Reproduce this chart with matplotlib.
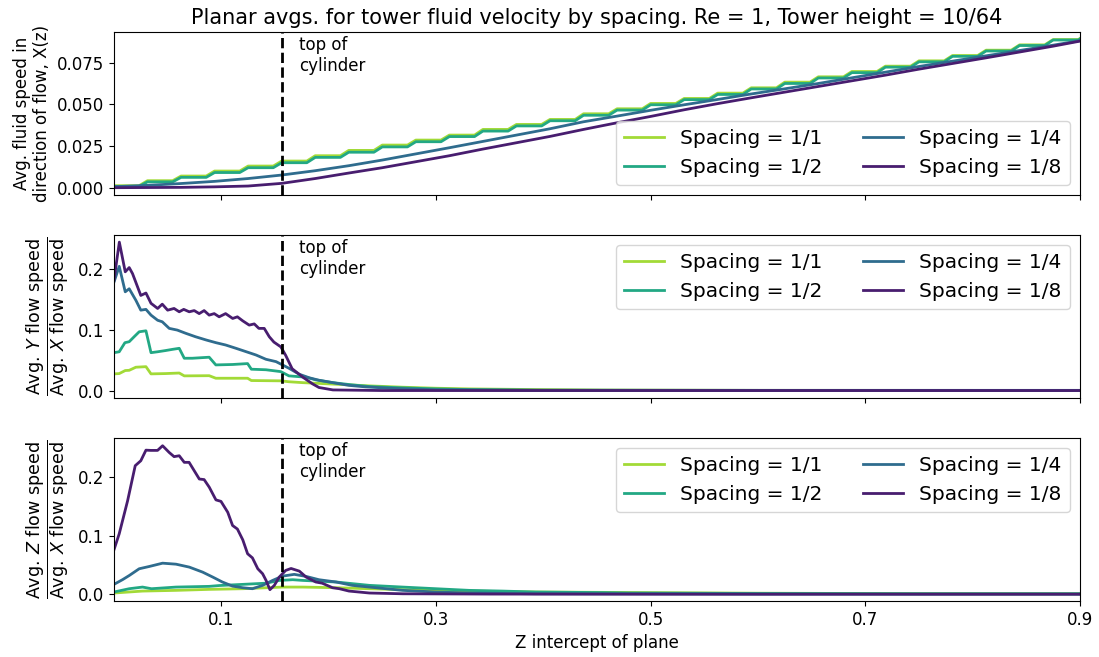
import numpy as np
import matplotlib
matplotlib.use('Agg')
import matplotlib.pyplot as plt
import matplotlib.transforms as mtransforms

labels = ['Spacing = 1/1', 'Spacing = 1/2', 'Spacing = 1/4', 'Spacing = 1/8']
colors = [plt.cm.viridis(v) for v in (0.86, 0.6, 0.35, 0.08)]
tower_top = 10 / 64

# top panel: 1/1 and 1/2 are flat per 1/32 slab (sampled every 1/128)
x_fine = np.arange(120) / 128
seg_11 = [0.0012, 0.0042, 0.0070, 0.0100, 0.0130, 0.0160, 0.0192, 0.0224, 0.0256, 0.0286,
          0.0316, 0.0350, 0.0380, 0.0410, 0.0444, 0.0474, 0.0506, 0.0536, 0.0568, 0.0600,
          0.0634, 0.0666, 0.0698, 0.0730, 0.0762, 0.0794, 0.0826, 0.0858, 0.0890, 0.0922]
seg_12 = [0.0008, 0.0035, 0.0062, 0.0091, 0.0120, 0.0150, 0.0182, 0.0213, 0.0245, 0.0276,
          0.0307, 0.0340, 0.0371, 0.0402, 0.0435, 0.0466, 0.0498, 0.0529, 0.0560, 0.0593,
          0.0626, 0.0659, 0.0691, 0.0724, 0.0756, 0.0789, 0.0821, 0.0854, 0.0887, 0.0919]
# 1/4 and 1/8 every 1/32
x_coarse = np.arange(30) / 32
top_14 = [0.0006, 0.0014, 0.0025, 0.0038, 0.0055, 0.0076, 0.0102, 0.0132, 0.0166, 0.0203,
          0.0240, 0.0278, 0.0316, 0.0354, 0.0396, 0.0430, 0.0465, 0.0498, 0.0530, 0.0563,
          0.0594, 0.0626, 0.0660, 0.0694, 0.0728, 0.0760, 0.0792, 0.0824, 0.0856, 0.0890]
top_18 = [0.0000, 0.0001, 0.0002, 0.0005, 0.0010, 0.0026, 0.0055, 0.0088, 0.0120, 0.0156,
          0.0192, 0.0232, 0.0270, 0.0308, 0.0350, 0.0390, 0.0428, 0.0468, 0.0505, 0.0540,
          0.0574, 0.0608, 0.0642, 0.0676, 0.0712, 0.0746, 0.0780, 0.0815, 0.0850, 0.0888]

# middle panel: Y/X ratio
my_x_11 = [0, 0.0049, 0.0105, 0.0142, 0.0204, 0.0298, 0.0345, 0.048, 0.0608, 0.0655, 0.0887,
           0.0949, 0.1245, 0.128, 0.1555, 0.163, 0.176, 0.207, 0.238, 0.269, 0.30, 0.331,
           0.393, 0.455, 0.6, 0.92]
my_y_11 = [0.0275, 0.028, 0.033, 0.0334, 0.0385, 0.0394, 0.0275, 0.028, 0.0289, 0.0242, 0.0245,
           0.0203, 0.0203, 0.0165, 0.016, 0.0145, 0.013, 0.0104, 0.0077, 0.0055, 0.0038, 0.0027,
           0.0016, 0.0008, 0.0003, 0.0002]
my_x_12 = [0, 0.0049, 0.0102, 0.0142, 0.0188, 0.0235, 0.0298, 0.0345, 0.0407, 0.048, 0.0546,
           0.0608, 0.0655, 0.073, 0.0887, 0.0949, 0.1106, 0.1245, 0.128, 0.1416, 0.1555, 0.163,
           0.179, 0.188, 0.204, 0.222, 0.238, 0.269, 0.30, 0.331, 0.393, 0.5, 0.7, 0.92]
my_y_12 = [0.0625, 0.064, 0.079, 0.0806, 0.0888, 0.097, 0.0986, 0.0625, 0.064, 0.066, 0.068,
           0.0697, 0.0533, 0.0533, 0.055, 0.0423, 0.043, 0.0445, 0.0352, 0.0343, 0.0312, 0.0242,
           0.022, 0.0176, 0.013, 0.0093, 0.0066, 0.0044, 0.0027, 0.0016, 0.0005, 0.0003, 0.0002, 0.0002]
my_x_14 = [0, 0.0049, 0.0105, 0.0142, 0.0204, 0.025, 0.0298, 0.0345, 0.0407, 0.045, 0.0515,
           0.059, 0.067, 0.076, 0.086, 0.095, 0.104, 0.1137, 0.123, 0.1323, 0.1416, 0.151,
           0.157, 0.163, 0.1725, 0.182, 0.191, 0.204, 0.219, 0.2346, 0.26, 0.30, 0.4, 0.6, 0.92]
my_y_14 = [0.179, 0.205, 0.163, 0.168, 0.149, 0.1327, 0.134, 0.1245, 0.116, 0.1135, 0.1026,
           0.0998, 0.0944, 0.0888, 0.0834, 0.079, 0.0752, 0.0697, 0.0642, 0.0587, 0.0516, 0.0477,
           0.0423, 0.0368, 0.027, 0.021, 0.017, 0.013, 0.0085, 0.006, 0.0035, 0.0012, 0.0005,
           0.0003, 0.0003]
my_x_18 = [0, 0.005, 0.0105, 0.0142, 0.0173, 0.025, 0.0298, 0.0345, 0.0407, 0.045, 0.05, 0.056,
           0.0608, 0.065, 0.0701, 0.0748, 0.0794, 0.084, 0.0887, 0.0934, 0.098, 0.104, 0.1106,
           0.115, 0.120, 0.126, 0.1307, 0.135, 0.140, 0.1447, 0.149, 0.1555, 0.160, 0.166, 0.176,
           0.185, 0.191, 0.204, 0.25, 0.4, 0.6, 0.92]
my_y_18 = [0.182, 0.245, 0.196, 0.203, 0.193, 0.157, 0.161, 0.144, 0.1355, 0.1426, 0.1327,
           0.1355, 0.130, 0.134, 0.130, 0.132, 0.127, 0.132, 0.1245, 0.127, 0.1217, 0.127, 0.119,
           0.1217, 0.115, 0.108, 0.110, 0.1026, 0.1026, 0.0888, 0.080, 0.072, 0.058, 0.036, 0.022,
           0.011, 0.005, 0.001, 0.0, 0.0, 0.0, 0.0]

# bottom panel: Z/X ratio
mz_x_11 = [0, 0.0266, 0.0578, 0.0887, 0.12, 0.157, 0.176, 0.207, 0.238, 0.269, 0.30, 0.331,
           0.393, 0.455, 0.6, 0.75, 0.92]
mz_y_11 = [0.0023, 0.0056, 0.0068, 0.0085, 0.0096, 0.0124, 0.0124, 0.0113, 0.0096, 0.008, 0.0068,
           0.0056, 0.004, 0.0034, 0.002, 0.0012, 0.001]
mz_x_12 = [0, 0.0142, 0.0266, 0.035, 0.0578, 0.0887, 0.098, 0.12, 0.1417, 0.154, 0.1665, 0.176,
           0.207, 0.238, 0.269, 0.30, 0.331, 0.362, 0.393, 0.455, 0.48, 0.6, 0.75, 0.92]
mz_y_12 = [0.004, 0.0096, 0.0124, 0.0096, 0.0124, 0.0136, 0.015, 0.017, 0.019, 0.0237, 0.0249,
           0.0237, 0.021, 0.0153, 0.0124, 0.0096, 0.0068, 0.0056, 0.004, 0.003, 0.0023, 0.0015,
           0.001, 0.001]
mz_x_14 = [0, 0.008, 0.0142, 0.0235, 0.0329, 0.0453, 0.0578, 0.0702, 0.0826, 0.092, 0.101,
           0.1105, 0.12, 0.129, 0.1385, 0.1478, 0.157, 0.168, 0.179, 0.191, 0.207, 0.222, 0.238,
           0.269, 0.30, 0.331, 0.393, 0.6, 0.92]
mz_y_14 = [0.017, 0.025, 0.032, 0.0435, 0.0474, 0.053, 0.0513, 0.0463, 0.0378, 0.0294, 0.021,
           0.014, 0.0113, 0.0096, 0.0153, 0.0237, 0.031, 0.034, 0.0305, 0.0249, 0.021, 0.0153,
           0.0124, 0.0068, 0.004, 0.0023, 0.001, 0.0005, 0.0005]
mz_x_18 = [0, 0.0049, 0.0127, 0.0198, 0.025, 0.0298, 0.0344, 0.0406, 0.0453, 0.0515, 0.056,
           0.0608, 0.0655, 0.07, 0.0795, 0.084, 0.0888, 0.095, 0.0997, 0.106, 0.1105, 0.115, 0.12,
           0.1245, 0.129, 0.134, 0.1385, 0.1417, 0.1453, 0.1494, 0.154, 0.160, 0.165, 0.1727,
           0.179, 0.188, 0.194, 0.2036, 0.21, 0.219, 0.238, 0.269, 0.35, 0.6, 0.92]
mz_y_18 = [0.0757, 0.103, 0.159, 0.2186, 0.227, 0.245, 0.2446, 0.2446, 0.2525, 0.241, 0.234,
           0.2355, 0.2243, 0.2243, 0.196, 0.195, 0.182, 0.1605, 0.158, 0.1395, 0.117, 0.111,
           0.0927, 0.069, 0.062, 0.0435, 0.035, 0.0237, 0.008, 0.0153, 0.0294, 0.0407, 0.044,
           0.0395, 0.0294, 0.021, 0.019, 0.0113, 0.0096, 0.0056, 0.0023, 0.001, 0.0005, 0.0003,
           0.0003]

fig, axes = plt.subplots(3, 1, figsize=(10.99, 6.57), dpi=100, sharex=True)
fig.subplots_adjust(left=0.1037, right=0.9827, top=0.951, bottom=0.0852, hspace=0.245)
ax1, ax2, ax3 = axes

lw = 2
ax1.plot(x_fine, np.repeat(seg_11, 4), color=colors[0], lw=lw, label=labels[0])
ax1.plot(x_fine, np.repeat(seg_12, 4), color=colors[1], lw=lw, label=labels[1])
ax1.plot(x_coarse, top_14, color=colors[2], lw=lw, label=labels[2])
ax1.plot(x_coarse, top_18, color=colors[3], lw=lw, label=labels[3])

ax2.plot(my_x_11, my_y_11, color=colors[0], lw=lw, label=labels[0])
ax2.plot(my_x_12, my_y_12, color=colors[1], lw=lw, label=labels[1])
ax2.plot(my_x_14, my_y_14, color=colors[2], lw=lw, label=labels[2])
ax2.plot(my_x_18, my_y_18, color=colors[3], lw=lw, label=labels[3])

ax3.plot(mz_x_11, mz_y_11, color=colors[0], lw=lw, label=labels[0])
ax3.plot(mz_x_12, mz_y_12, color=colors[1], lw=lw, label=labels[1])
ax3.plot(mz_x_14, mz_y_14, color=colors[2], lw=lw, label=labels[2])
ax3.plot(mz_x_18, mz_y_18, color=colors[3], lw=lw, label=labels[3])

ax1.set_ylim(-0.0045, 0.0934)
ax1.set_yticks([0.0, 0.025, 0.05, 0.075])
ax1.set_yticklabels(['0.000', '0.025', '0.050', '0.075'])
ax2.set_ylim(-0.0125, 0.2566)
ax2.set_yticks([0.0, 0.1, 0.2])
ax3.set_ylim(-0.0113, 0.2656)
ax3.set_yticks([0.0, 0.1, 0.2])

for ax in axes:
    ax.set_xlim(0, 0.9)
    ax.axvline(tower_top, color='k', ls='--', lw=2)
    trans = mtransforms.blended_transform_factory(ax.transData, ax.transAxes)
    ax.text(tower_top + 0.016, 0.975, 'top of\ncylinder', transform=trans,
            va='top', ha='left', fontsize=12)
    ax.tick_params(labelsize=12)

ax3.set_xticks([0.1, 0.3, 0.5, 0.7, 0.9])
ax3.set_xticklabels(['0.1', '0.3', '0.5', '0.7', '0.9'])

ax1.legend(loc='lower right', ncol=2, fontsize=14.5)
ax2.legend(loc='upper right', ncol=2, fontsize=14.5)
ax3.legend(loc='upper right', ncol=2, fontsize=14.5)

ax1.set_ylabel('Avg. fluid speed in\ndirection of flow, X(z)', fontsize=12)
ax2.set_ylabel(r'$\frac{\mathrm{Avg.}\,Y\ \mathrm{flow\ speed}}{\mathrm{Avg.}\,X\ \mathrm{flow\ speed}}$',
               fontsize=18)
ax3.set_ylabel(r'$\frac{\mathrm{Avg.}\,Z\ \mathrm{flow\ speed}}{\mathrm{Avg.}\,X\ \mathrm{flow\ speed}}$',
               fontsize=18)
ax3.set_xlabel('Z intercept of plane', fontsize=12)
ax1.set_title('Planar avgs. for tower fluid velocity by spacing. Re = 1, Tower height = 10/64',
              fontsize=15)

fig.savefig('out.png', dpi=100)
